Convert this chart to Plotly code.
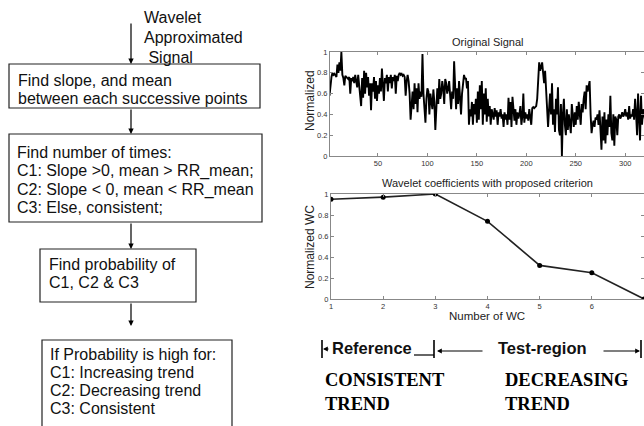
import plotly.graph_objects as go

W, H = 644, 426

# ---------------- data ----------------
signal = [
    0.58, 0.70, 0.76, 0.80, 0.78, 0.79, 0.77, 0.76, 0.88, 0.80,
    0.90, 0.82, 1.00, 0.78, 0.75, 0.68, 0.77, 0.76, 0.75, 0.74,
    0.76, 0.60, 0.75, 0.72, 0.76, 0.70, 0.78, 0.73, 0.66, 0.78,
    0.70, 0.60, 0.48, 0.75, 0.56, 0.82, 0.60, 0.80, 0.66, 0.76,
    0.58, 0.70, 0.44, 0.70, 0.62, 0.76, 0.55, 0.72, 0.53, 0.68,
    0.60, 0.75, 0.62, 0.84, 0.70, 0.53, 0.75, 0.70, 0.78, 0.62,
    0.76, 0.70, 0.78, 0.65, 0.76, 0.72, 0.78, 0.60, 0.77, 0.72,
    0.78, 0.80, 0.78, 0.79, 0.77, 0.78, 0.76, 0.58, 0.72, 0.78,
    0.72, 0.60, 0.35, 0.55, 0.62, 0.45, 0.70, 0.50, 0.65, 0.42,
    0.70, 0.55, 0.62, 0.57, 0.98, 0.60, 0.45, 0.32, 0.55, 0.65,
    0.62, 0.40, 0.60, 0.50, 0.45, 0.64, 0.52, 0.25, 0.55, 0.65,
    0.50, 0.74, 0.55, 0.60, 0.72, 0.65, 0.50, 0.74, 0.70, 0.60,
    0.65, 0.72, 0.58, 0.45, 0.62, 0.55, 0.91, 0.60, 0.45, 0.65,
    0.50, 0.72, 0.55, 0.40, 0.60, 0.72, 0.78, 0.74, 0.75, 0.65,
    0.72, 0.30, 0.45, 0.38, 0.52, 0.30, 0.50, 0.40, 0.55, 0.32,
    0.62, 0.35, 0.68, 0.45, 0.72, 0.30, 0.60, 0.40, 0.65, 0.33,
    0.55, 0.38, 0.48, 0.30, 0.45, 0.40, 0.35, 0.46, 0.38, 0.44,
    0.30, 0.42, 0.38, 0.45, 0.36, 0.40, 0.28, 0.42, 0.35, 0.40,
    0.30, 0.56, 0.35, 0.52, 0.28, 0.57, 0.40, 0.34, 0.45, 0.30,
    0.42, 0.36, 0.40, 0.48, 0.30, 0.38, 0.60, 0.32, 0.42, 0.36,
    0.40, 0.34, 0.45, 0.38, 0.30, 0.46, 0.47, 0.46, 0.47, 0.48,
    0.55, 0.75, 0.90, 0.82, 0.86, 0.90, 0.80, 0.70, 0.82, 0.60,
    0.50, 0.28, 0.45, 0.60, 0.40, 0.70, 0.30, 0.45, 0.23, 0.55,
    0.40, 0.66, 0.25, 0.20, 0.50, 0.00, 0.40, 0.55, 0.30, 0.20,
    0.45, 0.25, 0.40, 0.30, 0.22, 0.50, 0.35, 0.28, 0.42, 0.30,
    0.48, 0.35, 0.52, 0.38, 0.30, 0.50, 0.42, 0.55, 0.62, 0.45,
    0.68, 0.62, 0.70, 0.72, 0.40, 0.22, 0.30, 0.34, 0.28, 0.37,
    0.35, 0.40, 0.30, 0.44, 0.25, 0.06, 0.38, 0.15, 0.42, 0.12,
    0.35, 0.20, 0.40, 0.28, 0.58, 0.22, 0.15, 0.40, 0.10, 0.38,
    0.35, 0.20, 0.38, 0.40, 0.36, 0.38, 0.42, 0.38, 0.40, 0.45,
    0.38, 0.42, 0.35, 0.48, 0.36, 0.40, 0.38, 0.45, 0.35, 0.55,
    0.40, 0.20, 0.60, 0.35, 0.15, 0.58, 0.30, 0.45, 0.40, 0.35,
]
sample_idx = list(range(1, len(signal) + 1))

wc_number = [1, 2, 3, 4, 5, 6, 7]
wc_values = [0.95, 0.97, 1.00, 0.74, 0.32, 0.25, 0.00]

top_xticks = [50, 100, 150, 200, 250, 300]
yticks = [0, 0.2, 0.4, 0.6, 0.8, 1]
ytick_text = ["0", "0.2", "0.4", "0.6", "0.8", "1"]

flow_box1 = ["Find slope, and mean", "between each successive points"]
flow_box2 = ["Find number of times:", "C1: Slope >0, mean > RR_mean;",
             "C2: Slope < 0, mean < RR_mean", "C3: Else, consistent;"]
flow_box3 = ["Find probability of", "C1, C2 & C3"]
flow_box4 = ["If Probability is high for:", "C1: Increasing trend",
             "C2: Decreasing trend", "C3: Consistent"]
input_label = ["Wavelet", "Approximated", " Signal"]


def px(x):
    return x / W


def py(y):
    return 1 - y / H


SANS = "Liberation Sans, Arial, sans-serif"
SERIF = "Liberation Serif, Times New Roman, serif"
FLOW = 16

fig = go.Figure()
fig.add_trace(go.Scatter(x=sample_idx, y=signal, mode="lines",
                         line=dict(color="black", width=1.9),
                         xaxis="x", yaxis="y", showlegend=False))
fig.add_trace(go.Scatter(x=wc_number, y=wc_values, mode="lines+markers",
                         line=dict(color="#222", width=1.6),
                         marker=dict(color="black", size=5),
                         xaxis="x2", yaxis="y2", showlegend=False))

axcommon = dict(showline=True, linecolor="#888", linewidth=1, mirror="ticks",
                ticks="inside", ticklen=3, tickcolor="#888", showgrid=False,
                zeroline=False, automargin=False,
                tickfont=dict(family=SANS, size=7.5, color="#333"))

fig.update_layout(
    width=W, height=H, margin=dict(l=0, r=0, t=0, b=0),
    paper_bgcolor="white", plot_bgcolor="white",
    xaxis=dict(domain=[px(330), 1.0], range=[1.5, 319], tickvals=top_xticks,
               anchor="y", **axcommon),
    yaxis=dict(domain=[py(156), py(52)], range=[0, 1], tickvals=yticks,
               ticktext=ytick_text, anchor="x", **axcommon),
    xaxis2=dict(domain=[px(331), 1.0], range=[1, 7], tickvals=wc_number,
                anchor="y2", **axcommon),
    yaxis2=dict(domain=[py(299), py(194)], range=[0, 1], tickvals=yticks,
                ticktext=ytick_text, anchor="x2", **axcommon),
)

ann = []
shapes = []


def text(x, y, s, size=FLOW, anchor="left", family=SANS, color="#111",
         bold=False, angle=0):
    if bold:
        s = "<b>" + s + "</b>"
    ann.append(dict(x=px(x), y=py(y), xref="paper", yref="paper", text=s,
                    showarrow=False, xanchor=anchor, yanchor="middle",
                    textangle=angle,
                    font=dict(family=family, size=size, color=color)))


def arrow(x0, y0, x1, y1, size=0.9, width=1.2):
    # tail (x0,y0) -> head (x1,y1), pixel coords
    ann.append(dict(x=px(x1), y=py(y1), xref="paper", yref="paper",
                    ax=x0 - x1, ay=y0 - y1, axref="pixel", ayref="pixel",
                    text="", showarrow=True, arrowhead=2, arrowsize=size,
                    arrowwidth=width, arrowcolor="black", standoff=0))


def rect(x0, y0, x1, y1):
    shapes.append(dict(type="rect", xref="paper", yref="paper",
                       x0=px(x0), x1=px(x1), y0=py(y1), y1=py(y0),
                       line=dict(color="#222", width=1.2)))


def line(x0, y0, x1, y1, width=1.2):
    shapes.append(dict(type="line", xref="paper", yref="paper",
                       x0=px(x0), x1=px(x1), y0=py(y0), y1=py(y1),
                       line=dict(color="black", width=width)))


# ---------------- flowchart ----------------
for i, s in enumerate(input_label):
    text(142, 17 + 20 * i, s)
arrow(131, 22, 131, 64)

rect(9, 64, 260, 108)
for i, s in enumerate(flow_box1):
    text(16, 80 + 18 * i, s)
arrow(131, 108, 131, 134)

rect(9, 134, 262, 222)
for i, s in enumerate(flow_box2):
    text(15, 153 + 18.3 * i, s)
arrow(131, 222, 131, 249)

rect(40, 249, 196, 302)
for i, s in enumerate(flow_box3):
    text(47, 264 + 18 * i, s)
arrow(131, 302, 131, 326)

rect(42, 340, 232, 440)
for i, s in enumerate(flow_box4):
    text(48, 354 + 18.3 * i, s)

# ---------------- chart titles ----------------
text(488, 42, "Original Signal", size=11, anchor="center", color="#222")
text(487, 183, "Wavelet coefficients with proposed criterion", size=11,
     anchor="center", color="#222")
text(310, 101, "Normalized", size=12, anchor="center", color="#222", angle=-90)
text(310, 247, "Normalized WC", size=12, anchor="center", color="#222", angle=-90)
text(487, 316, "Number of WC", size=11.5, anchor="center", color="#222")

# ---------------- reference / test-region ----------------
line(322, 340, 322, 358, width=1.6)
arrow(330, 349, 323, 349, size=0.8, width=1.2)
text(330, 348, "Reference", size=16.5, bold=True)
line(414, 355, 434, 355)
line(434, 340, 434, 358, width=1.6)
arrow(484, 351, 437, 351, size=0.8, width=1.2)
text(542, 348, "Test-region", size=16.5, bold=True, anchor="center")
arrow(602, 351, 640, 351, size=0.8, width=1.2)
line(641, 340, 641, 358, width=1.6)

text(323, 380, "CONSISTENT", size=18.5, family=SERIF, bold=True, color="black")
text(323, 404, "TREND", size=18.5, family=SERIF, bold=True, color="black")
text(503, 380, "DECREASING", size=18.5, family=SERIF, bold=True, color="black")
text(503, 404, "TREND", size=18.5, family=SERIF, bold=True, color="black")

fig.update_layout(annotations=ann, shapes=shapes)
fig.write_html("out.html")
